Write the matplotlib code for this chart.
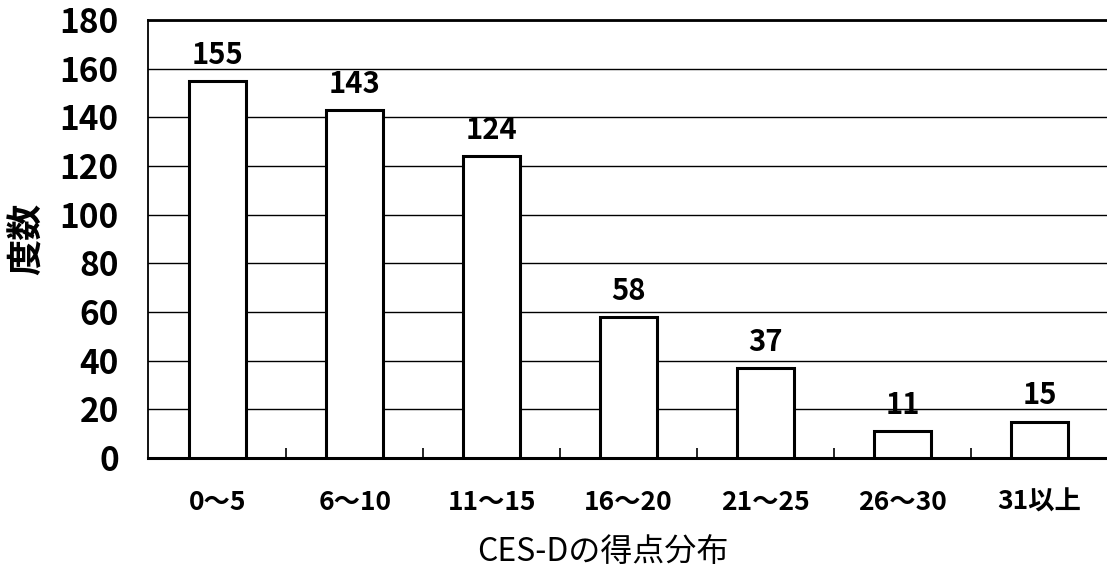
import matplotlib
matplotlib.use("Agg")
import matplotlib.pyplot as plt
import numpy as np

plt.rcParams['font.family'] = ['Noto Sans CJK JP', 'DejaVu Sans']

categories = ["0～5", "6～10", "11～15", "16～20", "21～25", "26～30", "31以上"]
counts = [155, 143, 124, 58, 37, 11, 15]
yticks = [0, 20, 40, 60, 80, 100, 120, 140, 160, 180]

W, H = 1107, 570
fig = plt.figure(figsize=(W/100, H/100), dpi=100)
ax = fig.add_axes([148/W, (H-458)/H, (1108-148)/W, (458-20)/H])

x = np.arange(len(categories))
ax.bar(x, counts, width=0.415, color='white', edgecolor='black', linewidth=2.2, zorder=3)

for xi, v in zip(x, counts):
    ax.annotate(str(v), (xi, v), xytext=(0, 8), textcoords='offset points',
                ha='center', va='bottom', fontsize=21, fontweight='bold', zorder=4)

ax.set_xlim(-0.51, 6.5)
ax.set_ylim(0, 180)
ax.set_yticks(yticks)
ax.set_yticklabels([str(t) for t in yticks], fontsize=24, fontweight='bold')
ax.tick_params(axis='y', length=0, pad=21)
ax.yaxis.grid(True, color='black', linewidth=1.0, zorder=0)
ax.set_axisbelow(True)

ax.set_xticks(x)
ax.set_xticklabels(categories, fontsize=19, fontweight='bold')
ax.tick_params(axis='x', which='major', length=0, pad=22)
ax.set_xticks(np.arange(len(categories)) + 0.5, minor=True)
ax.tick_params(axis='x', which='minor', direction='in', length=7, width=1.2, color='black')

ax.spines['top'].set_linewidth(2.0)
ax.spines['bottom'].set_linewidth(2.2)
ax.spines['left'].set_linewidth(1.3)
ax.spines['right'].set_visible(False)

fig.text(603/W, 1 - 552/H, "CES-Dの得点分布", fontsize=23, ha='center', va='center')
fig.text(27/W, 1 - 239/H, "度数", fontsize=26, fontweight='bold', rotation=90,
         ha='center', va='center')

fig.savefig("out.png", dpi=100)
